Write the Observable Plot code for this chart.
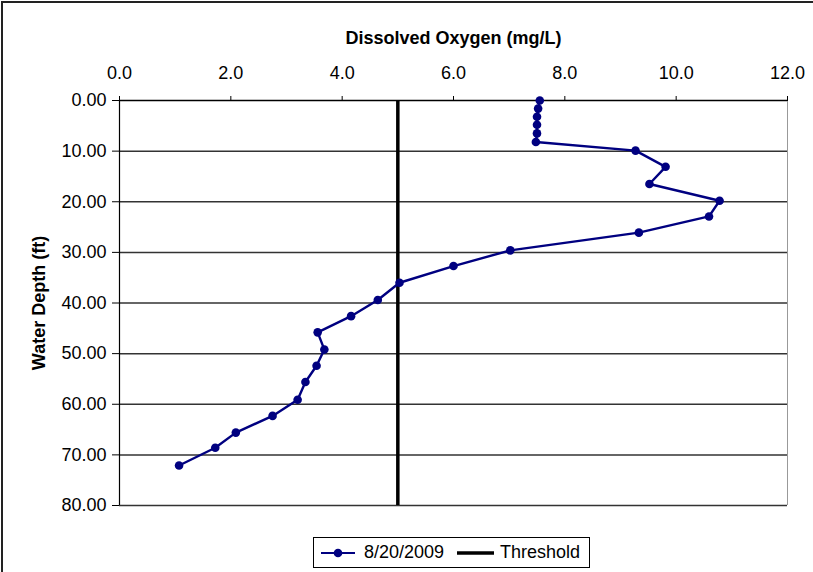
<!DOCTYPE html>
<html><head><meta charset="utf-8">
<script src="https://cdn.jsdelivr.net/npm/d3@7"></script>
<script src="https://cdn.jsdelivr.net/npm/@observablehq/plot@0.6"></script>
<style>
html,body{margin:0;padding:0;background:#fff;font-family:"Liberation Sans",Arial,sans-serif;overflow:hidden;}
#wrap{position:relative;width:813px;height:572px;overflow:hidden;background:#fff;}
#frame{position:absolute;left:0;top:0;pointer-events:none;}
#chart{position:absolute;left:0;top:0;}
#legend{position:absolute;left:313px;top:537px;width:277px;height:31px;border:1px solid #000;box-sizing:border-box;display:flex;align-items:center;font-size:18px;color:#000;background:#fff;}
#legend svg{display:block;}
</style></head>
<body>
<div id="wrap">
  <div id="chart"></div>
  <svg id="frame" width="813" height="572"><path d="M2,572V2H813" fill="none" stroke="#222" stroke-width="2"/></svg>
  <div id="legend">
    <svg width="44" height="14" style="margin-left:6px"><line x1="1" x2="35" y1="7" y2="7" stroke="#000080" stroke-width="2.2"/><circle cx="18" cy="7" r="4.3" fill="#000080"/></svg>
    <span id="lg1" style="margin-left:0px"></span>
    <svg width="50" height="14" style="margin-left:11px"><line x1="2" x2="39" y1="7" y2="7" stroke="#000" stroke-width="3.5"/></svg>
    <span id="lg2" style="margin-left:-5px"></span>
  </div>
</div>
<script>
const seriesName = "8/20/2009";
const thresholdName = "Threshold";
const xTitle = "Dissolved Oxygen (mg/L)";
const yTitle = "Water Depth (ft)";
const xTicks = [0, 2, 4, 6, 8, 10, 12];
const yTicks = [0, 10, 20, 30, 40, 50, 60, 70, 80];
const threshold = 5;
const depth = [0, 1.6, 3.2, 4.8, 6.5, 8.2, 9.9, 13.1, 16.5, 19.8, 22.9, 26.1, 29.6, 32.7, 36.0, 39.4, 42.6, 45.8, 49.2, 52.4, 55.6, 59.1, 62.3, 65.6, 68.6, 72.1];
const oxygen = [7.55, 7.52, 7.50, 7.50, 7.50, 7.48, 9.27, 9.81, 9.52, 10.78, 10.59, 9.33, 7.02, 6.00, 5.03, 4.64, 4.16, 3.56, 3.68, 3.54, 3.34, 3.20, 2.75, 2.09, 1.72, 1.07];

const rows = depth.map((d, i) => ({depth: d, oxygen: oxygen[i]}));

const chart = Plot.plot({
  width: 813,
  height: 530,
  marginTop: 100,
  marginLeft: 119,
  marginRight: 26,
  marginBottom: 25,
  x: {domain: [0, 12]},
  y: {domain: [0, 80], reverse: true},
  style: {fontFamily: "Liberation Sans, Arial, sans-serif", fontSize: "18px", color: "#000", background: "transparent"},
  marks: [
    Plot.ruleY(yTicks.slice(1), {stroke: "#333", strokeWidth: 1.5}),
    Plot.ruleX([12], {stroke: "#999", strokeWidth: 1}),
    Plot.ruleX([0], {stroke: "#000", strokeWidth: 1.2}),
    Plot.ruleY([0], {stroke: "#000", strokeWidth: 1.5}),
    Plot.ruleX([threshold], {stroke: "#000", strokeWidth: 3.5}),
    Plot.axisX({anchor: "top", ticks: xTicks, tickFormat: d3.format(".1f"), tickSize: 5, tickPadding: 17, label: null}),
    Plot.axisY({anchor: "left", ticks: yTicks, tickFormat: d3.format(".2f"), tickSize: 7, tickPadding: 6, label: null}),
    Plot.line(rows, {x: "oxygen", y: "depth", stroke: "#000080", strokeWidth: 2.4}),
    Plot.dot(rows, {x: "oxygen", y: "depth", r: 4.3, fill: "#000080", stroke: "none"}),
    Plot.text([xTitle], {frameAnchor: "top", dy: -62, lineAnchor: "middle", fontWeight: "bold", fontSize: 18}),
    Plot.text([yTitle], {frameAnchor: "left", dx: -80, rotate: -90, textAnchor: "middle", lineAnchor: "middle", fontWeight: "bold", fontSize: 18})
  ]
});
document.getElementById("chart").appendChild(chart);
document.getElementById("lg1").textContent = seriesName;
document.getElementById("lg2").textContent = thresholdName;
</script>
</body></html>
